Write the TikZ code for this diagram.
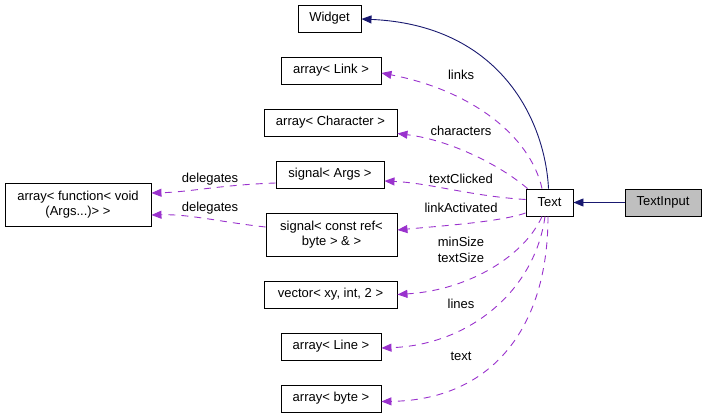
\documentclass[tikz,border=0pt]{standalone}
\usepackage{fontspec}
\setmainfont{Liberation Sans}
\usetikzlibrary{arrows.meta}
\definecolor{navyc}{HTML}{191970}
\definecolor{purp}{HTML}{9A32CD}
\definecolor{grayf}{HTML}{BFBFBF}
\begin{document}
\begin{tikzpicture}[x=1pt,y=-1pt,
  box/.style={draw=black,line width=0.9pt,inner sep=0pt,align=center,font=\fontsize{13}{15.5}\selectfont},
  lbl/.style={font=\fontsize{13}{15.5}\selectfont,inner sep=0pt,align=center},
  inh/.style={draw=navyc,line width=0.9pt,-{Triangle[length=10pt,width=8pt]}},
  use/.style={draw=purp,line width=0.9pt,dash pattern=on 7pt off 6pt,-{Triangle[length=10pt,width=8pt]}}]
\useasboundingbox (0,0) rectangle (707,417);
\node[box,minimum width=63pt,minimum height=27pt] (widget) at (329.5,18.5) {Widget};
\node[box,minimum width=100pt,minimum height=27pt] (alink) at (331,70.5) {array< Link >};
\node[box,minimum width=133pt,minimum height=27pt] (achar) at (330.5,122.5) {array< Character >};
\node[box,minimum width=108pt,minimum height=27pt] (sargs) at (330,174.5) {signal< Args >};
\node[box,minimum width=131pt,minimum height=43pt] (sref) at (331.5,234.5) {signal< const ref<\\byte > \& >};
\node[box,minimum width=133pt,minimum height=27pt] (vec) at (330.5,294.5) {vector< xy, int, 2 >};
\node[box,minimum width=100pt,minimum height=27pt] (aline) at (331,346.5) {array< Line >};
\node[box,minimum width=100pt,minimum height=27pt] (abyte) at (331,398.5) {array< byte >};
\node[box,minimum width=146pt,minimum height=43pt] (afunc) at (78,204.5) {array< function< void\\(Args...)> >};
\node[box,minimum width=47pt,minimum height=27pt] (text) at (549.5,202.5) {Text};
\node[box,fill=grayf,minimum width=76pt,minimum height=27pt] (tinput) at (663,202.5) {TextInput};
% inheritance
\draw[inh] (tinput.west) -- (text.east);
\draw[inh] ([xshift=-1pt]text.north) .. controls (545,120) and (500,25) .. ([yshift=-0.5pt]widget.east);
% usage
\draw[use] ([xshift=-7.5pt]text.north) .. controls (530,135) and (470,90) .. ([yshift=-2.5pt]alink.east);
\node[lbl] (llinks) at (461,75) {links};
\draw[use] ([xshift=-22pt]text.north) .. controls (500,165) and (450,140) .. ([yshift=-11pt]achar.east);
\node[lbl] (lchar) at (461,131) {characters};
\draw[use] ([yshift=3pt]text.west) .. controls (470,196) and (430,183) .. ([yshift=-6.5pt]sargs.east);
\node[lbl] (lclick) at (461,179) {textClicked};
\draw[use] ([yshift=-10.5pt]text.west) .. controls (500,222) and (440,226) .. ([yshift=4.5pt]sref.east);
\node[lbl] (lact) at (461,208) {linkActivated};
\draw[use] ([xshift=-7.5pt]text.south) .. controls (525,255) and (470,290) .. (vec.east);
\node[lbl] (lsize) at (461,250) {minSize\\textSize};
\draw[use] ([xshift=-4.5pt]text.south) .. controls (535,290) and (470,345) .. ([yshift=-1.5pt]aline.east);
\node[lbl] (llines) at (461,304) {lines};
\draw[use] ([xshift=-1.5pt]text.south) .. controls (548,330) and (490,400) .. ([yshift=-3pt]abyte.east);
\node[lbl] (ltext) at (461,356) {text};
\draw[use] ([yshift=-8.5pt]sargs.west) .. controls (220,185) and (190,192) .. ([yshift=11.5pt]afunc.east);
\node[lbl] (ldel1) at (210,179) {delegates};
\draw[use] ([yshift=7.5pt]sref.west) .. controls (220,222) and (190,214) .. ([yshift=-10.5pt]afunc.east);
\node[lbl] (ldel2) at (210,208) {delegates};
\end{tikzpicture}
\end{document}
